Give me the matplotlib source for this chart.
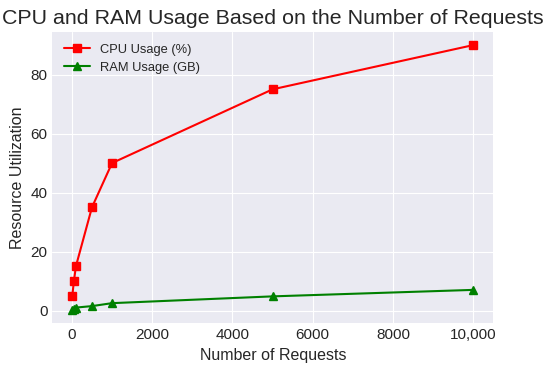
import matplotlib.pyplot as plt
from matplotlib.ticker import FuncFormatter

requests_n = [10, 50, 100, 500, 1000, 5000, 10000]
cpu_usage = [5, 10, 15, 35, 50, 75, 90]
ram_usage = [0.2, 0.5, 1, 1.5, 2.5, 4.8, 7]

plt.style.use('seaborn-v0_8-darkgrid')
plt.rcParams['font.family'] = ['Liberation Sans', 'DejaVu Sans']

fig, ax = plt.subplots(figsize=(5.5, 3.66), dpi=100)
ax.plot(requests_n, cpu_usage, color='red', marker='s', markersize=6, label='CPU Usage (%)')
ax.plot(requests_n, ram_usage, color='green', marker='^', markersize=6, label='RAM Usage (GB)')

ax.set_title('CPU and RAM Usage Based on the Number of Requests', fontsize=15.4)
ax.set_xlabel('Number of Requests', fontsize=11.5)
ax.set_ylabel('Resource Utilization', fontsize=11.5)
ax.tick_params(labelsize=11)
ax.xaxis.set_major_formatter(FuncFormatter(lambda v, p: f'{int(v):,}' if v >= 10000 else f'{int(v)}'))
ax.legend(loc='upper left', fontsize=9.3)

fig.subplots_adjust(left=0.095, right=0.897, top=0.913, bottom=0.117)
plt.savefig('out.png')
